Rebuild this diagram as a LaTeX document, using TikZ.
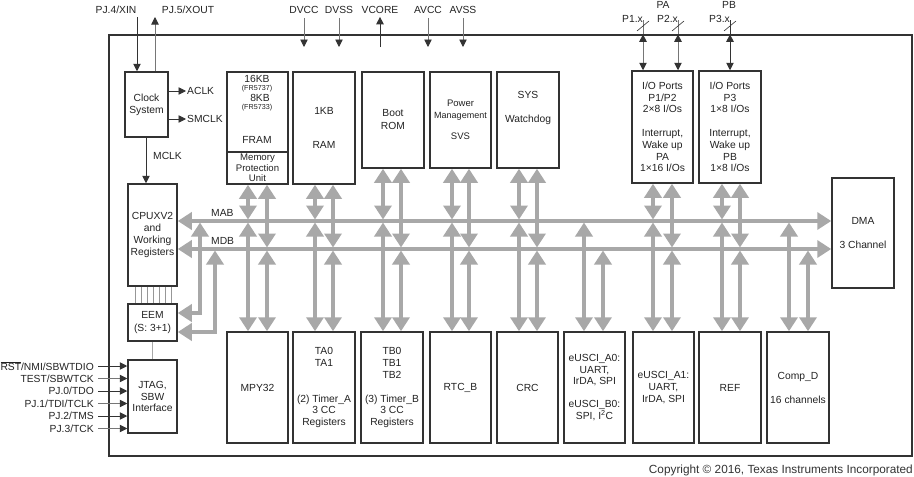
\documentclass[tikz,border=0pt]{standalone}
\usepackage{fontspec}
\setmainfont{Liberation Sans}
\usetikzlibrary{arrows.meta}
\definecolor{bord}{HTML}{333333}
\definecolor{busc}{HTML}{A8A8A8}
\definecolor{txt}{HTML}{222222}
\tikzset{
 blk/.style={draw=bord, line width=1.5pt, align=center},
 bus/.style={draw=busc, line width=3.6pt, {Triangle[length=14pt,width=17pt]}-{Triangle[length=14pt,width=17pt]}},
 pin/.style={draw=bord, line width=0.9pt, -{Triangle[length=7.5pt,width=7.5pt,color=bord]}},
 pinboth/.style={draw=bord, line width=0.9pt, {Triangle[length=7.5pt,width=7.5pt,color=bord]}-{Triangle[length=7.5pt,width=7.5pt,color=bord]}},
 pinline/.style={draw=bord, line width=0.9pt},
 thinl/.style={draw=busc, line width=0.6pt},
}
\begin{document}
\begin{tikzpicture}[x=1pt,y=-1pt,
  every node/.style={text=txt, font=\fontsize{10.3}{11.7}\selectfont, inner sep=0pt}]
\useasboundingbox (0,0) rectangle (914,477);

% chip outline
\node[draw=bord, line width=1.3pt, minimum width=803pt, minimum height=421pt] (chip) at (510.5,245.5) {};

% top row
\node[blk, minimum width=43pt, minimum height=65pt] (clk) at (146.5,104.5) {Clock\\System};
\node[blk, minimum width=61pt, minimum height=80pt] (fram) at (257.5,112) {};
\node[blk, minimum width=61pt, minimum height=32pt, font=\fontsize{9.6}{10.5}\selectfont] (mpu) at (257.5,168) {Memory\\Protection\\Unit};
\node (t16) at (257,79) {16KB};
\node[font=\fontsize{7.2}{8}\selectfont] (tf1) at (257,88.5) {(FR5737)};
\node (t8) at (260,98) {8KB};
\node[font=\fontsize{7.2}{8}\selectfont] (tf2) at (257,107.5) {(FR5733)};
\node (tfram) at (257,140) {FRAM};
\node[blk, minimum width=62pt, minimum height=112pt] (ram) at (324,128) {1KB\\[22.3pt]RAM};
\node[blk, minimum width=62pt, minimum height=96pt] (boot) at (393,120) {Boot\\[1.3pt]ROM};
\node[blk, minimum width=61pt, minimum height=96pt, font=\fontsize{9.5}{12}\selectfont] (pmm) at (460.5,120) {Power\\{\fontsize{9}{12}\selectfont Management}\\[9pt]SVS};
\node[blk, minimum width=62pt, minimum height=96pt] (sys) at (528,120) {};
\node[align=center] (tsys) at (528,108) {SYS\\[12.3pt]Watchdog};
\node[blk, minimum width=61pt, minimum height=112pt] (io12) at (662.5,127) {I/O Ports\\P1/P2\\2×8 I/Os\\[12.3pt]Interrupt,\\Wake up\\PA\\1×16 I/Os};
\node[blk, minimum width=62pt, minimum height=112pt] (io3) at (730,127) {I/O Ports\\P3\\1×8 I/Os\\[12.3pt]Interrupt,\\Wake up\\PB\\1×8 I/Os};

% left column
\node[blk, minimum width=49pt, minimum height=102pt] (cpu) at (152.5,235) {CPUXV2\\and\\Working\\Registers};
\node[blk, minimum width=49pt, minimum height=37pt] (eem) at (152.5,322.5) {EEM\\[1.3pt](S: 3+1)};
\node[blk, minimum width=49pt, minimum height=73pt] (jtag) at (152.5,396.5) {JTAG,\\SBW\\Interface};

% DMA
\node[blk, minimum width=62pt, minimum height=110pt] (dma) at (863,233) {DMA\\[12.3pt]3 Channel};

% bottom row
\node[blk, minimum width=61pt, minimum height=111pt] (mpy) at (257.5,387.5) {MPY32};
\node[blk, minimum width=62pt, minimum height=111pt] (ta) at (324,387.5) {TA0\\TA1\\[24.3pt](2) Timer\_A\\3 CC\\Registers};
\node[blk, minimum width=62pt, minimum height=111pt] (tb) at (392,387.5) {TB0\\TB1\\TB2\\[12.3pt](3) Timer\_B\\3 CC\\Registers};
\node[blk, minimum width=61pt, minimum height=111pt] (rtc) at (460.5,387.5) {RTC\_B};
\node[blk, minimum width=61pt, minimum height=111pt] (crc) at (527.5,387.5) {CRC};
\node[blk, minimum width=61pt, minimum height=111pt] (ua0) at (594.5,387.5) {eUSCI\_A0:\\UART,\\IrDA, SPI\\[11.3pt]eUSCI\_B0:\\SPI, I\textsuperscript{2}C};
\node[blk, minimum width=61pt, minimum height=111pt] (ua1) at (663.5,387.5) {eUSCI\_A1:\\UART,\\IrDA, SPI};
\node[blk, minimum width=62pt, minimum height=111pt] (ref) at (730,387.5) {REF};
\node[blk, minimum width=62pt, minimum height=111pt] (comp) at (798,387.5) {Comp\_D\\[12.3pt]16 channels};

% bus reference levels
\coordinate (mab) at (0,221);
\coordinate (mdb) at (0,249);
\coordinate (mabT) at (0,219.5);
\coordinate (mabB) at (0,222.5);
\coordinate (mdbT) at (0,247.5);
\coordinate (mdbB) at (0,250.5);

% main buses
\draw[bus] (cpu.east |- mab) -- (dma.west |- mab);
\draw[bus] (cpu.east |- mdb) -- (dma.west |- mdb);
\node[anchor=west] (lmab) at (211,213) {MAB};
\node[anchor=west] (lmdb) at (211,241) {MDB};

% module connections
\foreach \t/\b/\xa/\xb in {mpu/mpy/248/267, ram/ta/315/333, boot/tb/383/401, pmm/rtc/452/469, sys/crc/519/537, io12/ua1/653/672, io3/ref/722/740}{
  \draw[bus] (\t.south -| \xa,0) -- (\xa,0 |- mabT);
  \draw[bus] (\xa,0 |- mabB) -- (\b.north -| \xa,0);
  \draw[bus] (\t.south -| \xb,0) -- (\xb,0 |- mdbT);
  \draw[bus] (\xb,0 |- mdbB) -- (\b.north -| \xb,0);
}
\foreach \b/\xa/\xb in {ua0/584/603, comp/789/808}{
  \draw[bus] (\xa,0 |- mabB) -- (\b.north -| \xa,0);
  \draw[bus] (\xb,0 |- mdbB) -- (\b.north -| \xb,0);
}

% EEM branches
\draw[bus] (200,0 |- mabB) |- ([yshift=9.5pt]eem.east);
\draw[bus] (215,0 |- mdbB) |- ([yshift=-9.5pt]eem.east);

% CPU - EEM thin lines
\foreach \x in {135,141,147,153,159,165,171}
  \draw[draw=busc!90!black, line width=0.5pt] (cpu.south -| \x,0) -- (eem.north -| \x,0);
\draw[thinl, line width=0.8pt] (eem.south) -- (jtag.north);

% clock pins
\node (lxin) at (116,10) {PJ.4/XIN};
\node (lxout) at (188,10) {PJ.5/XOUT};
\coordinate (xinS) at (137,17);
\coordinate (xoutE) at (155,17);
\draw[pin] (xinS) -- (clk.north -| xinS);
\draw[pin, draw=busc!70!black] (clk.north -| xoutE) -- (xoutE);
\node[anchor=west] (laclk) at (187,91) {ACLK};
\node[anchor=west] (lsmclk) at (187,119) {SMCLK};
\draw[pin] (clk.east |- laclk.west) -- ([xshift=-1pt]laclk.west);
\draw[pin] (clk.east |- lsmclk.west) -- ([xshift=-1pt]lsmclk.west);
\draw[pin] (clk.south -| 146,0) -- (cpu.north -| 146,0);
\node[anchor=west] (lmclk) at (153,156) {MCLK};

% power pins
\node (ldvcc) at (304,10) {DVCC};
\node (ldvss) at (339,10) {DVSS};
\node (lvcore) at (380,10) {VCORE};
\node (lavcc) at (428,10) {AVCC};
\node (lavss) at (463,10) {AVSS};
\foreach \n in {ldvcc,ldvss,lavcc,lavss}
  \draw[pin, draw=busc!70!black] ([yshift=-4pt]\n.south) -- (\n.south |- 0,47);
\draw[pin] (lvcore.south |- 0,47) -- ([yshift=-3pt]lvcore.south);

% I/O port pins
\node (lpa) at (663,5) {PA};
\node (lpb) at (729,5) {PB};
\node[anchor=east] (lp1) at (643,19) {P1.x};
\node[anchor=east] (lp2) at (678,19) {P2.x};
\node[anchor=east] (lp3) at (730,19) {P3.x};
\coordinate (p1t) at (643,20);
\coordinate (p2t) at (678,20);
\coordinate (p3t) at (730,20);
\foreach \p/\b/\c in {p1t/io12/busc!70!black, p2t/io12/busc!70!black, p3t/io3/bord}{
  \draw[pinline, draw=\c] (\p) -- (chip.north -| \p);
  \draw[pinboth, draw=\c] (chip.north -| \p) -- (\b.north -| \p);
  \draw[draw=bord, line width=0.6pt] ([shift={(-6,11)}]\p) -- ([shift={(6,1)}]\p);
}

% JTAG pins
\node[anchor=east] (prst) at (94,366) {$\overline{\hbox{RST}}$/NMI/SBWTDIO};
\node[anchor=east] (ptest) at (94,378.5) {TEST/SBWTCK};
\node[anchor=east] (ptdo) at (94,391) {PJ.0/TDO};
\node[anchor=east] (ptdi) at (94,403.5) {PJ.1/TDI/TCLK};
\node[anchor=east] (ptms) at (94,416) {PJ.2/TMS};
\node[anchor=east] (ptck) at (94,428.5) {PJ.3/TCK};
\draw[pin] ([xshift=4pt]prst.east) -- (jtag.west |- prst.east);
\draw[pin, draw=busc!70!black] ([xshift=4pt]ptest.east) -- (jtag.west |- ptest.east);
\draw[pin] ([xshift=4pt]ptdo.east) -- (jtag.west |- ptdo.east);
\draw[pin, draw=busc!70!black] ([xshift=4pt]ptdi.east) -- (jtag.west |- ptdi.east);
\draw[pin] ([xshift=4pt]ptms.east) -- (jtag.west |- ptms.east);
\draw[pin, draw=busc!70!black] ([xshift=4pt]ptck.east) -- (jtag.west |- ptck.east);

% copyright
\node[anchor=east, font=\fontsize{11.8}{13}\selectfont, text=bord] (copy) at (913,470) {Copyright © 2016, Texas Instruments Incorporated};
\end{tikzpicture}
\end{document}
